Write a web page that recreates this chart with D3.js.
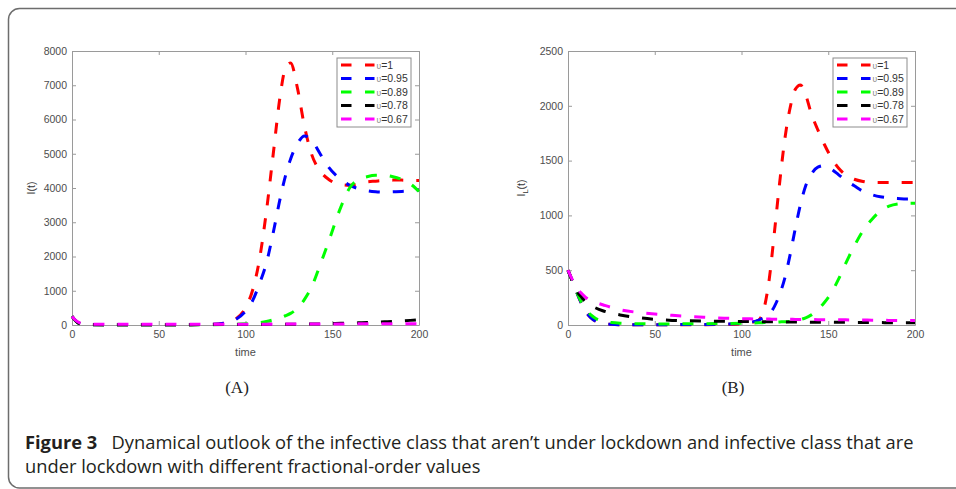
<!DOCTYPE html>
<html>
<head>
<meta charset="utf-8">
<script src="https://cdn.jsdelivr.net/npm/d3@7"></script>
<style>
  body { margin: 0; background: #fff; }
  svg { display: block; }
</style>
</head>
<body>
<div id="figura"></div>
<script>
// ---- datos ----
// Panel A: I(t)
const timeA = [0, 3, 6, 10, 20, 40, 60, 80, 90, 95, 100, 104, 108, 112, 116, 120, 123, 126, 130, 134, 138, 143, 148, 155, 160, 165, 170, 175, 180, 185, 190, 195, 200];
const infA_100 = [250, 80, 20, 10, 5, 5, 5, 20, 80, 200, 500, 1000, 1900, 3300, 5000, 6700, 7500, 7650, 6900, 5800, 5000, 4500, 4250, 4100, 4080, 4120, 4180, 4200, 4220, 4230, 4230, 4220, 4220];
const infA_095 = [250, 80, 20, 10, 5, 5, 5, 20, 80, 180, 400, 700, 1200, 1800, 2700, 3700, 4350, 4850, 5300, 5520, 5400, 5000, 4600, 4250, 4080, 3980, 3920, 3890, 3880, 3890, 3900, 3920, 3940];
const infA_089 = [250, 80, 20, 10, 5, 5, 5, 8, 15, 25, 35, 50, 70, 100, 150, 210, 270, 340, 490, 750, 1100, 1750, 2450, 3450, 4000, 4250, 4330, 4370, 4370, 4330, 4250, 4120, 3900];
const infA_078 = [250, 80, 25, 15, 10, 10, 10, 12, 13, 14, 15, 16, 17, 18, 19, 20, 21, 22, 24, 26, 28, 32, 38, 48, 55, 63, 72, 82, 93, 105, 120, 135, 155];
const infA_067 = [250, 100, 40, 25, 20, 20, 20, 22, 22, 23, 23, 24, 24, 25, 25, 26, 26, 27, 27, 28, 28, 29, 30, 31, 32, 33, 34, 35, 36, 37, 38, 39, 40];

// Panel B: I_L(t)
const timeB = [0, 2, 5, 8, 10, 13, 16, 20, 25, 30, 40, 50, 60, 70, 80, 90, 100, 105, 110, 113, 116, 119, 122, 125, 128, 131, 134, 137, 140, 144, 148, 152, 156, 160, 165, 170, 175, 180, 185, 190, 195, 200];
const infB_100 = [500, 420, 300, 190, 130, 70, 35, 15, 6, 3, 2, 2, 2, 2, 3, 5, 10, 20, 45, 150, 420, 850, 1300, 1700, 1980, 2150, 2190, 2100, 1940, 1780, 1640, 1520, 1430, 1370, 1330, 1310, 1300, 1300, 1300, 1300, 1300, 1300];
const infB_095 = [500, 420, 300, 190, 130, 70, 35, 15, 6, 3, 2, 2, 3, 4, 5, 8, 15, 25, 45, 70, 100, 170, 280, 430, 640, 880, 1100, 1270, 1370, 1440, 1455, 1420, 1370, 1320, 1270, 1220, 1190, 1170, 1160, 1155, 1150, 1150];
const infB_089 = [500, 420, 300, 200, 150, 95, 60, 35, 22, 16, 12, 10, 10, 11, 12, 14, 16, 18, 20, 22, 24, 26, 28, 30, 33, 40, 50, 65, 90, 140, 210, 300, 420, 560, 720, 860, 960, 1040, 1085, 1105, 1110, 1110];
const infB_078 = [500, 420, 310, 250, 215, 180, 155, 130, 108, 92, 68, 52, 42, 38, 36, 34, 32, 31, 30, 30, 29, 29, 28, 28, 28, 27, 27, 27, 26, 26, 25, 25, 24, 24, 23, 23, 22, 22, 21, 21, 20, 20];
const infB_067 = [500, 430, 340, 285, 255, 225, 205, 185, 160, 140, 115, 100, 88, 78, 70, 62, 58, 56, 55, 54, 54, 53, 53, 52, 52, 51, 51, 50, 50, 49, 49, 48, 48, 47, 46, 45, 44, 43, 42, 41, 40, 40];

const ordenes = ["1", "0.95", "0.89", "0.78", "0.67"];
const colores = ["#ff0000", "#0000ff", "#00ff00", "#000000", "#ff00ff"];
const ticksTiempo = [0, 50, 100, 150, 200];
const ticksA = [0, 1000, 2000, 3000, 4000, 5000, 6000, 7000, 8000];
const ticksB = [0, 500, 1000, 1500, 2000, 2500];

// ---- lienzo ----
const svg = d3.select("#figura")
  .append("svg")
  .attr("width", 956)
  .attr("height", 489);

// marco redondeado de la figura
svg.append("rect")
  .attr("x", 8.5).attr("y", 8.5)
  .attr("width", 990).attr("height", 479.5)
  .attr("rx", 11)
  .attr("fill", "none")
  .attr("stroke", "#6d6d6d")
  .attr("stroke-width", 1.5);

const fuenteEjes = "'Liberation Sans', Arial, sans-serif";

function dibujarPanel(p) {
  const top = 51, bottom = 325, anchoEje = 347;
  const x = d3.scaleLinear().domain([0, 200]).range([p.left, p.left + anchoEje]);
  const y = d3.scaleLinear().domain([0, p.yMax]).range([bottom, top]);
  const g = svg.append("g");

  // ejes con marcas hacia dentro (estilo MATLAB)
  const ejes = [
    g.append("g").attr("transform", `translate(0,${bottom})`)
      .call(d3.axisBottom(x).tickValues(ticksTiempo).tickFormat(d3.format("d")).tickSize(-4).tickSizeOuter(0).tickPadding(6)),
    g.append("g").attr("transform", `translate(${p.left},0)`)
      .call(d3.axisLeft(y).tickValues(p.yTicks).tickFormat(d3.format("d")).tickSize(-4).tickSizeOuter(0).tickPadding(5)),
    g.append("g").attr("transform", `translate(0,${top})`)
      .call(d3.axisTop(x).tickValues(ticksTiempo).tickSize(-4).tickSizeOuter(0).tickFormat("")),
    g.append("g").attr("transform", `translate(${p.left + anchoEje},0)`)
      .call(d3.axisRight(y).tickValues(p.yTicks).tickSize(-4).tickSizeOuter(0).tickFormat(""))
  ];
  ejes.forEach(e => {
    e.select(".domain").attr("stroke", "#9a9a9a");
    e.selectAll(".tick line").attr("stroke", "#9a9a9a");
    e.selectAll(".tick text")
      .attr("fill", "#4d4d4d")
      .style("font-family", fuenteEjes)
      .style("font-size", "10.5px");
  });

  // recorte al área de los ejes
  g.append("clipPath").attr("id", p.id)
    .append("rect")
    .attr("x", p.left - 2).attr("y", top)
    .attr("width", anchoEje + 4).attr("height", bottom - top + 2);

  const linea = d3.line()
    .x((d, i) => x(p.tiempo[i]))
    .y(d => y(d))
    .curve(d3.curveMonotoneX);

  g.append("g").attr("clip-path", `url(#${p.id})`)
    .selectAll("path")
    .data(p.series)
    .enter()
    .append("path")
    .attr("d", d => linea(d))
    .attr("fill", "none")
    .attr("stroke", (d, i) => colores[i])
    .attr("stroke-width", 3)
    .attr("stroke-dasharray", "11,13");

  // etiquetas de los ejes
  g.append("text")
    .attr("x", (x.range()[0] + x.range()[1]) / 2)
    .attr("y", 356)
    .attr("text-anchor", "middle")
    .attr("fill", "#4d4d4d")
    .style("font-family", fuenteEjes)
    .style("font-size", "11px")
    .text("time");

  const ylab = g.append("text")
    .attr("transform", `translate(${p.left - p.labelOffset},188) rotate(-90)`)
    .attr("text-anchor", "middle")
    .attr("fill", "#333")
    .style("font-family", fuenteEjes)
    .style("font-size", "10.5px");
  ylab.append("tspan").text("I");
  if (p.sub) {
    ylab.append("tspan").attr("dy", 3).style("font-size", "7.5px").text(p.sub);
    ylab.append("tspan").attr("dy", -3).text("(t)");
  } else {
    ylab.append("tspan").text("(t)");
  }

  // leyenda
  const lx = p.left + anchoEje - 8 - 74, ly = 58;
  const leyenda = g.append("g");
  leyenda.append("rect")
    .attr("x", lx).attr("y", ly)
    .attr("width", 74).attr("height", 69)
    .attr("fill", "#fff")
    .attr("stroke", "#8c8c8c")
    .attr("stroke-width", 1);
  ordenes.forEach((o, i) => {
    const yy = ly + 7 + i * 13.5;
    leyenda.append("line")
      .attr("x1", lx + 4).attr("x2", lx + 37.5)
      .attr("y1", yy).attr("y2", yy)
      .attr("stroke", colores[i])
      .attr("stroke-width", 3)
      .attr("stroke-dasharray", "10.5,13.5");
    const t = leyenda.append("text")
      .attr("x", lx + 39.5).attr("y", yy + 3.8)
      .style("font-family", fuenteEjes);
    t.append("tspan").attr("fill", "#888").style("font-size", "8.5px").text("\u03c5");
    t.append("tspan").attr("fill", "#333").style("font-size", "10.5px").text("=" + o);
  });

  // rótulo del panel
  svg.append("text")
    .attr("x", p.left + 165)
    .attr("y", 393)
    .attr("text-anchor", "middle")
    .attr("fill", "#222")
    .style("font-family", "'Liberation Serif', 'DejaVu Serif', serif")
    .style("font-size", "17px")
    .text(p.rotulo);
}

dibujarPanel({
  id: "clipA", left: 72, yMax: 8000, yTicks: ticksA, tiempo: timeA,
  series: [infA_100, infA_095, infA_089, infA_078, infA_067],
  sub: null, labelOffset: 37, rotulo: "(A)"
});

dibujarPanel({
  id: "clipB", left: 568, yMax: 2500, yTicks: ticksB, tiempo: timeB,
  series: [infB_100, infB_095, infB_089, infB_078, infB_067],
  sub: "L", labelOffset: 43, rotulo: "(B)"
});

// ---- pie de figura ----
const fuentePie = "'Open Sans', 'Noto Sans', sans-serif";
const pie1 = svg.append("g");
const t1 = pie1.append("text")
  .attr("fill", "#231f20")
  .style("font-family", fuentePie)
  .style("font-size", "18px");
t1.append("tspan").attr("font-weight", "bold").text("Figure 3");
t1.append("tspan").attr("dx", 14).text("Dynamical outlook of the infective class that aren\u2019t under lockdown and infective class that are");

const pie2 = svg.append("g");
pie2.append("text")
  .attr("fill", "#231f20")
  .style("font-family", fuentePie)
  .style("font-size", "18px")
  .text("under lockdown with different fractional-order values");

// ajuste horizontal para imitar la tipografía estrecha del original
const escala = 875 / t1.node().getComputedTextLength();
pie1.attr("transform", `translate(25,449) scale(${escala},1)`);
pie2.attr("transform", `translate(25,473) scale(${escala},1)`);
</script>
</body>
</html>
